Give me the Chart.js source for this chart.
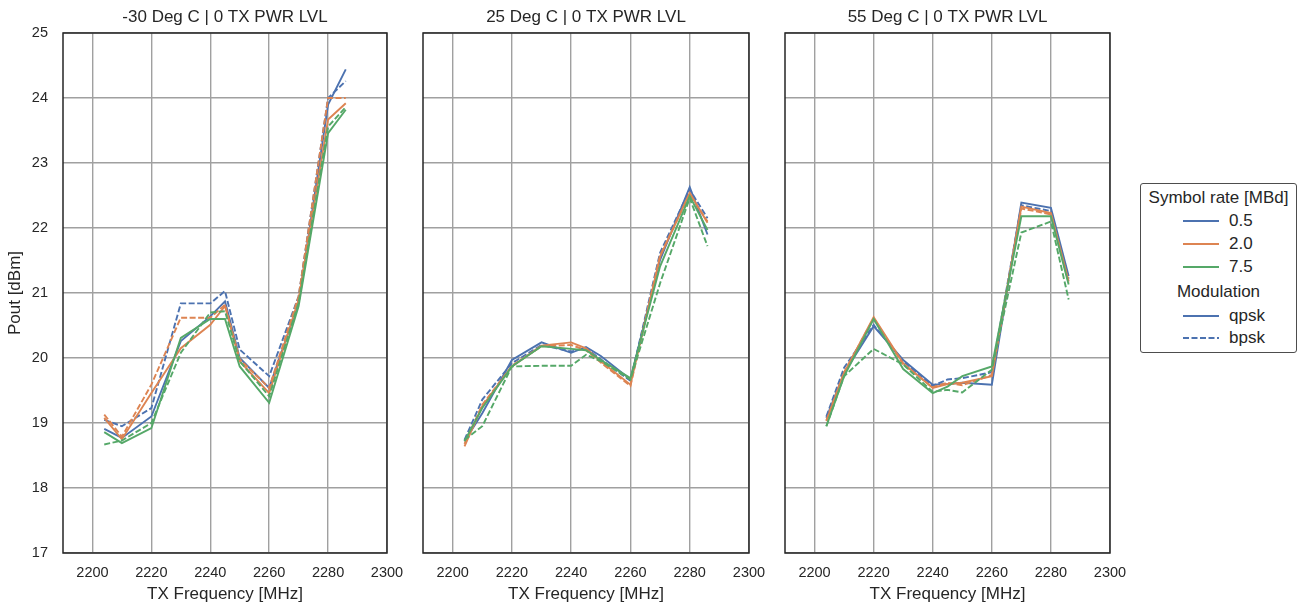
<!DOCTYPE html>
<html lang="en">
<head>
<meta charset="UTF-8">
<title>Pout vs TX Frequency</title>
<script src="https://cdn.jsdelivr.net/npm/chart.js"></script>
<style>
  body { margin: 0; background: #fff; font-family: "Liberation Sans", Arial, sans-serif; color: #262626; }
  #wrap { position: relative; width: 1302px; height: 607px; overflow: hidden; }
  canvas { position: absolute; top: 0; }
  #legend { position: absolute; left: 1140px; top: 183px; width: 157px; height: 170px; box-sizing: border-box;
            border: 1px solid #4d4d4d; border-radius: 3px; background: #fff; font-size: 17px; }
  #legend .row { position: absolute; left: 0; width: 100%; height: 22px; line-height: 22px; }
  #legend .head { text-align: center; }
  #legend svg { position: absolute; left: 42px; top: 9px; }
  #legend .lbl { position: absolute; left: 88px; }
</style>
</head>
<body>
<div id="wrap">
  <canvas id="c1" width="417" height="607" style="left:0px"></canvas>
  <canvas id="c2" width="376" height="607" style="left:403px"></canvas>
  <canvas id="c3" width="375" height="607" style="left:765px"></canvas>
  <div id="legend"></div>
</div>
<script>
const freqs = [2204, 2210, 2220, 2230, 2240, 2245, 2250, 2260, 2270, 2280, 2286];
const xTicks = [2200, 2220, 2240, 2260, 2280, 2300];
const yTicks = [17, 18, 19, 20, 21, 22, 23, 24, 25];
const rates = ['0.5', '2.0', '7.5'];
const modulations = ['qpsk', 'bpsk'];
const titles = ['-30 Deg C | 0 TX PWR LVL', '25 Deg C | 0 TX PWR LVL', '55 Deg C | 0 TX PWR LVL'];

// -30 Deg C
const m30_qpsk_05 = [18.91, 18.77, 19.10, 20.26, 20.64, 20.87, 20.00, 19.54, 20.85, 23.90, 24.44];
const m30_bpsk_05 = [19.05, 18.95, 19.23, 20.84, 20.84, 21.03, 20.13, 19.72, 20.95, 24.00, 24.26];
const m30_qpsk_20 = [19.08, 18.75, 19.46, 20.15, 20.51, 20.80, 19.95, 19.46, 20.90, 23.67, 23.92];
const m30_bpsk_20 = [19.13, 18.79, 19.59, 20.62, 20.62, 20.82, 19.98, 19.54, 20.95, 24.00, 24.00];
const m30_qpsk_75 = [18.86, 18.69, 18.92, 20.31, 20.60, 20.60, 19.87, 19.31, 20.80, 23.46, 23.82];
const m30_bpsk_75 = [18.67, 18.73, 19.00, 20.08, 20.70, 20.72, 19.95, 19.41, 20.85, 23.56, 23.86];

// 25 Deg C
const p25_qpsk_05 = [18.72, 19.15, 19.97, 20.24, 20.08, 20.17, 20.03, 19.67, 21.51, 22.63, 21.90];
const p25_bpsk_05 = [18.74, 19.36, 19.92, 20.20, 20.10, 20.15, 19.98, 19.65, 21.62, 22.59, 22.15];
const p25_qpsk_20 = [18.64, 19.26, 19.87, 20.19, 20.24, 20.15, 19.95, 19.59, 21.56, 22.54, 22.08];
const p25_bpsk_20 = [18.68, 19.28, 19.88, 20.18, 20.20, 20.12, 19.93, 19.57, 21.58, 22.52, 22.10];
const p25_qpsk_75 = [18.72, 19.23, 19.87, 20.18, 20.14, 20.12, 19.97, 19.69, 21.41, 22.49, 21.97];
const p25_bpsk_75 = [18.74, 18.95, 19.87, 19.88, 19.88, 20.05, 19.95, 19.67, 21.15, 22.46, 21.72];

// 55 Deg C
const p55_qpsk_05 = [19.08, 19.77, 20.49, 19.97, 19.59, 19.60, 19.62, 19.59, 22.39, 22.31, 21.26];
const p55_bpsk_05 = [19.10, 19.85, 20.51, 19.95, 19.57, 19.67, 19.69, 19.78, 22.35, 22.26, 21.22];
const p55_qpsk_20 = [19.03, 19.77, 20.63, 19.92, 19.54, 19.60, 19.62, 19.72, 22.33, 22.23, 21.18];
const p55_bpsk_20 = [19.04, 19.78, 20.61, 19.90, 19.55, 19.62, 19.58, 19.74, 22.30, 22.21, 21.16];
const p55_qpsk_75 = [18.95, 19.72, 20.60, 19.83, 19.46, 19.56, 19.72, 19.87, 22.18, 22.18, 21.13];
const p55_bpsk_75 = [18.95, 19.72, 20.14, 19.90, 19.48, 19.51, 19.47, 19.82, 21.93, 22.10, 20.90];

const panels = [
  [[m30_qpsk_05, m30_bpsk_05], [m30_qpsk_20, m30_bpsk_20], [m30_qpsk_75, m30_bpsk_75]],
  [[p25_qpsk_05, p25_bpsk_05], [p25_qpsk_20, p25_bpsk_20], [p25_qpsk_75, p25_bpsk_75]],
  [[p55_qpsk_05, p55_bpsk_05], [p55_qpsk_20, p55_bpsk_20], [p55_qpsk_75, p55_bpsk_75]]
];

const rateColors = ['#4c72b0', '#dd8452', '#55a868'];
const dash = [6, 2.5];
const ink = '#262626';
const gridColor = '#a0a0a0';

Chart.defaults.font.family = '"Liberation Sans", Arial, sans-serif';
Chart.defaults.color = ink;

const framePlugin = {
  id: 'frame',
  afterDraw(chart) {
    const { ctx, chartArea: a } = chart;
    ctx.save();
    ctx.strokeStyle = ink;
    ctx.lineWidth = 1.5;
    ctx.strokeRect(a.left, a.top, a.right - a.left, a.bottom - a.top);
    ctx.restore();
  }
};

function makePanel(id, idx, first) {
  const datasets = [];
  panels[idx].forEach((pair, r) => {
    pair.forEach((vals, m) => {
      datasets.push({
        label: rates[r] + ' ' + modulations[m],
        data: freqs.map((f, i) => ({ x: f, y: vals[i] })),
        borderColor: rateColors[r],
        borderWidth: 1.9,
        borderDash: m === 1 ? dash : [],
        pointRadius: 0,
        tension: 0,
        fill: false
      });
    });
  });
  datasets.reverse();

  new Chart(document.getElementById(id).getContext('2d'), {
    type: 'line',
    data: { datasets },
    options: {
      responsive: false,
      animation: false,
      devicePixelRatio: 1,
      layout: { padding: { left: first ? 0 : 20, right: 30, top: 0, bottom: 0 } },
      plugins: {
        legend: { display: false },
        tooltip: { enabled: false },
        title: {
          display: true,
          fullSize: false,
          text: titles[idx],
          color: ink,
          font: { size: 17, weight: 'normal' },
          padding: { top: 7, bottom: 5.6 }
        }
      },
      scales: {
        x: {
          type: 'linear',
          min: 2190,
          max: 2300,
          afterBuildTicks: s => { s.ticks = xTicks.map(v => ({ value: v })); },
          afterFit: s => { s.height = 54; },
          grid: { color: gridColor, lineWidth: 1.4, drawTicks: false },
          border: { display: false },
          ticks: { font: { size: 14.5 }, padding: 11, color: ink, maxRotation: 0, callback: v => String(v) },
          title: { display: true, text: 'TX Frequency [MHz]', font: { size: 17 }, color: ink, padding: { top: 0, bottom: 2 } }
        },
        y: {
          min: 17,
          max: 25,
          afterBuildTicks: s => { s.ticks = yTicks.map(v => ({ value: v })); },
          afterFit: s => { s.width = first ? 63 : 0; },
          grid: { color: gridColor, lineWidth: 1.4, drawTicks: false },
          border: { display: false },
          ticks: { display: first, font: { size: 14.5 }, padding: 15, color: ink, callback: v => String(v) },
          title: { display: first, text: 'Pout [dBm]', font: { size: 17 }, color: ink, padding: { top: 5, bottom: 0 } }
        }
      }
    },
    plugins: [framePlugin]
  });
}

makePanel('c1', 0, true);
makePanel('c2', 1, false);
makePanel('c3', 2, false);

// legend
const legend = document.getElementById('legend');
function addRow(center, html) {
  const d = document.createElement('div');
  d.className = 'row';
  d.style.top = (center - 11) + 'px';
  d.innerHTML = html;
  legend.appendChild(d);
}
function sample(color, dashed) {
  return '<svg width="36" height="4"><line x1="0" y1="2" x2="36" y2="2" stroke="' + color +
    '" stroke-width="1.9"' + (dashed ? ' stroke-dasharray="6 2.5"' : '') + '/></svg>';
}
const rowCenters = [14, 37, 60, 83, 108, 132, 154];
addRow(rowCenters[0], '<div class="head">Symbol rate [MBd]</div>');
rates.forEach((r, i) => addRow(rowCenters[i + 1], sample(rateColors[i], false) + '<span class="lbl">' + r + '</span>'));
addRow(rowCenters[4], '<div class="head">Modulation</div>');
modulations.forEach((m, i) => addRow(rowCenters[i + 5], sample(rateColors[0], i === 1) + '<span class="lbl">' + m + '</span>'));
</script>
</body>
</html>
